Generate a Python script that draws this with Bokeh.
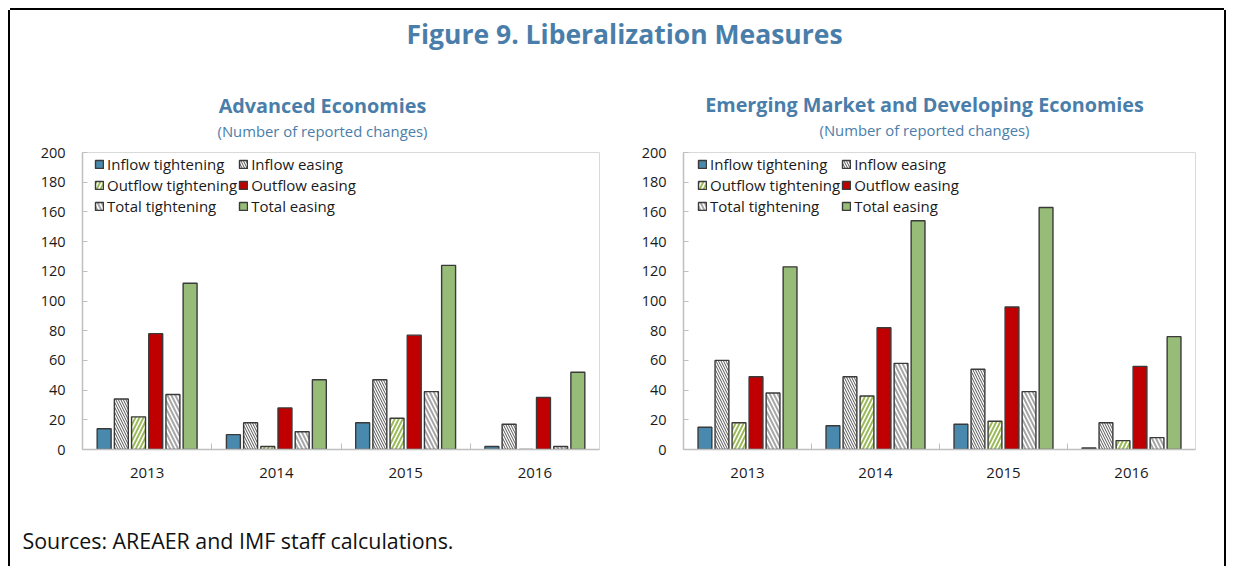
import numpy as np
from bokeh.plotting import figure
from bokeh.models import (Range1d, FixedTicker, Legend, LegendItem, ColumnDataSource, Spacer)
from bokeh.layouts import column, row
from bokeh.core.properties import value
from bokeh.embed import file_html
from bokeh.resources import INLINE

# ---------------- data ----------------
categories = ["2013", "2014", "2015", "2016"]
series_names = ["Inflow tightening", "Inflow easing", "Outflow tightening",
                "Outflow easing", "Total tightening", "Total easing"]

ae_inflow_tightening = [14, 10, 18, 2]
ae_inflow_easing = [34, 18, 47, 17]
ae_outflow_tightening = [22, 2, 21, 0]
ae_outflow_easing = [78, 28, 77, 35]
ae_total_tightening = [37, 12, 39, 2]
ae_total_easing = [112, 47, 124, 52]

em_inflow_tightening = [15, 16, 17, 1]
em_inflow_easing = [60, 49, 54, 18]
em_outflow_tightening = [18, 36, 19, 6]
em_outflow_easing = [49, 82, 96, 56]
em_total_tightening = [38, 58, 39, 8]
em_total_easing = [123, 154, 163, 76]

y_ticks = list(range(0, 201, 20))

main_title = "Figure 9. Liberalization Measures"
ae_title = "Advanced Economies"
em_title = "Emerging Market and Developing Economies"
subtitle = "(Number of reported changes)"
source_note = "Sources: AREAER and IMF staff calculations."

# ---------------- styles ----------------
FONT = "Open Sans"
BLUE_TXT = "#4A7EAA"
AXIS_GREY = "#BFBFBF"
OUTLINE = "#3A3A3A"

styles = [
    dict(fill_color="#4889AD"),
    dict(fill_color="white", hatch_pattern="\\", hatch_color="#555555",
         hatch_scale=5, hatch_weight=1),
    dict(fill_color="white", hatch_pattern="/", hatch_color="#9BBB59",
         hatch_scale=8, hatch_weight=2),
    dict(fill_color="#C00000"),
    dict(fill_color="white", hatch_pattern="\\", hatch_color="#A6A6A6",
         hatch_scale=8, hatch_weight=2),
    dict(fill_color="#97BC77"),
]

PITCH = 0.133
BAR_W = 0.108

# page geometry (page coordinates)
OFF = 10            # inner box starts here (border lines drawn just outside)
X1 = 1224
SPLIT = 617
HEAD_H = 132
PANEL_H = 353
FOOT_H = 71


def make_panel(series, width, border_left, border_right, legend_x):
    p = figure(width=width, height=PANEL_H, output_backend="svg",
               toolbar_location=None, x_range=Range1d(0, 4),
               y_range=Range1d(0, 200), min_border_left=border_left,
               min_border_right=border_right, min_border_top=10,
               min_border_bottom=46)
    p.grid.visible = False
    p.outline_line_color = "#D9D9D9"
    p.outline_line_width = 1
    p.background_fill_color = "white"

    base_x = np.arange(len(categories)) + 0.5
    renderers = []
    for k, (vals, st) in enumerate(zip(series, styles)):
        src = ColumnDataSource(dict(x=base_x + (k - 2.5) * PITCH, top=vals))
        r = p.vbar(x="x", top="top", width=BAR_W, bottom=0, source=src,
                   line_color=OUTLINE, line_width=1.4, **st)
        renderers.append(r)

    # y axis
    ya = p.yaxis[0]
    ya.ticker = FixedTicker(ticks=y_ticks, minor_ticks=[])
    ya.axis_line_color = AXIS_GREY
    ya.axis_line_width = 1.5
    ya.major_tick_line_color = AXIS_GREY
    ya.major_tick_in = 5
    ya.major_tick_out = 0
    ya.minor_tick_line_color = None
    ya.major_label_text_font = FONT
    ya.major_label_text_font_size = "14.5px"
    ya.major_label_text_color = "#1A1A1A"
    ya.major_label_standoff = 17

    # x axis
    xa = p.xaxis[0]
    xa.ticker = FixedTicker(ticks=list(base_x),
                            minor_ticks=list(np.arange(1, len(categories))))
    xa.major_label_overrides = {float(b): c for b, c in zip(base_x, categories)}
    xa.axis_line_color = AXIS_GREY
    xa.axis_line_width = 1.5
    xa.major_tick_line_color = None
    xa.minor_tick_line_color = AXIS_GREY
    xa.minor_tick_in = 6
    xa.minor_tick_out = 0
    xa.major_label_text_font = FONT
    xa.major_label_text_font_size = "15px"
    xa.major_label_text_color = "#1A1A1A"
    xa.major_label_standoff = 12

    order = [0, 2, 4, 1, 3, 5]
    items = [LegendItem(label=series_names[i], renderers=[renderers[i]])
             for i in order]
    leg = Legend(items=items, ncols=2, nrows=3, location=(legend_x, 233),
                 glyph_width=10, glyph_height=10, label_height=18,
                 spacing=1, padding=0, margin=0, label_standoff=3,
                 label_text_font=FONT, label_text_font_size="15px",
                 label_text_color="#1A1A1A", border_line_color=None,
                 background_fill_alpha=0)
    p.add_layout(leg, "center")
    return p


lw = SPLIT - OFF
left = make_panel([ae_inflow_tightening, ae_inflow_easing, ae_outflow_tightening,
                   ae_outflow_easing, ae_total_tightening, ae_total_easing],
                  width=lw, border_left=82 - OFF,
                  border_right=lw - (82 - OFF) - 517, legend_x=12)
rw = X1 - SPLIT
right = make_panel([em_inflow_tightening, em_inflow_easing, em_outflow_tightening,
                    em_outflow_easing, em_total_tightening, em_total_easing],
                   width=rw, border_left=683 - SPLIT,
                   border_right=rw - (683 - SPLIT) - 512, legend_x=14)

# header with titles
head = figure(width=X1 - OFF, height=HEAD_H, output_backend="svg",
              toolbar_location=None, x_range=Range1d(OFF, X1),
              y_range=Range1d(OFF + HEAD_H, OFF), min_border=0)
head.axis.visible = False
head.grid.visible = False
head.outline_line_color = None
head.text(x=[624], y=[33], text=[main_title], text_font=value(FONT),
          text_font_style="bold", text_font_size="26.5px", text_color=BLUE_TXT,
          text_align="center", text_baseline="middle")
head.text(x=[322, 924], y=[105, 104], text=[ae_title, em_title],
          text_font=value(FONT), text_font_style="bold",
          text_font_size="19.8px", text_color=BLUE_TXT,
          text_align="center", text_baseline="middle")
head.text(x=[322, 924], y=[130, 129], text=[subtitle, subtitle],
          text_font=value(FONT), text_font_size="14.85px", text_color=BLUE_TXT,
          text_align="center", text_baseline="middle")

foot_top = OFF + HEAD_H + PANEL_H
foot = figure(width=X1 - OFF, height=FOOT_H, output_backend="svg",
              toolbar_location=None, x_range=Range1d(OFF, X1),
              y_range=Range1d(foot_top + FOOT_H, foot_top), min_border=0)
foot.axis.visible = False
foot.grid.visible = False
foot.outline_line_color = None
foot.text(x=[22], y=[540], text=[source_note], text_font=value(FONT),
          text_font_size="21.4px", text_color="#111111",
          text_align="left", text_baseline="middle")

inner = column(head, row(left, right), foot, spacing=0,
               styles={"box-shadow": "-2px 0 0 #000, 2px 0 0 #000, 0 -2px 0 #000"})
inner_h = HEAD_H + PANEL_H + FOOT_H
layout = column(Spacer(width=X1, height=OFF),
                row(Spacer(width=OFF, height=inner_h), inner, spacing=0),
                spacing=0)

open("out.html", "w").write(file_html(layout, INLINE))
